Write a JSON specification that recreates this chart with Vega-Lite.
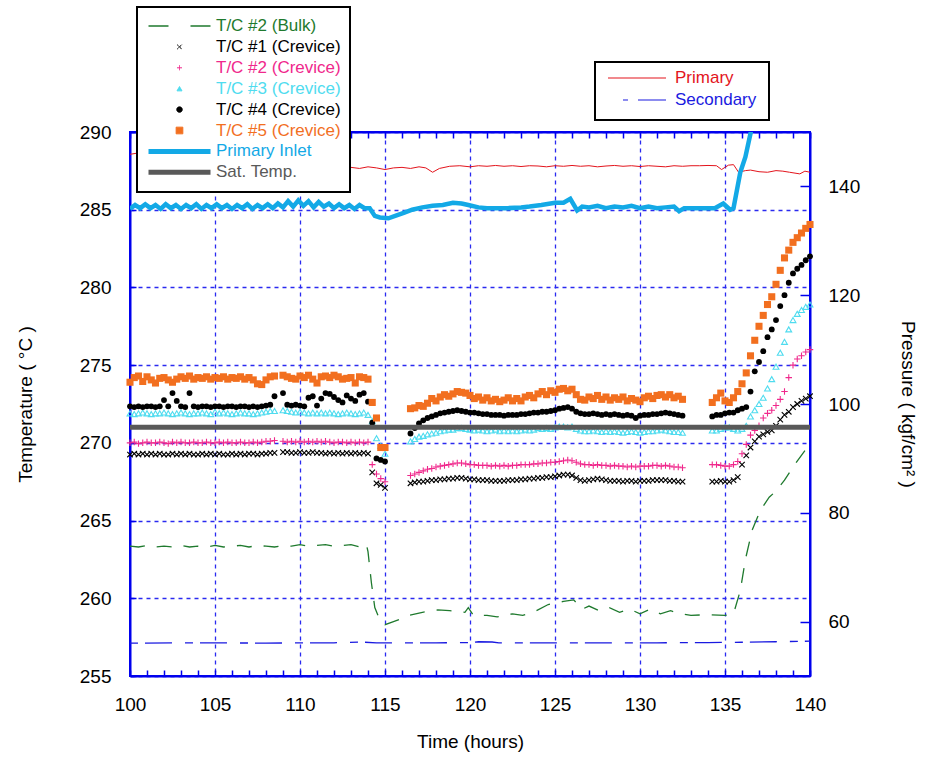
{
"$schema": "https://vega.github.io/schema/vega-lite/v6.json",
"width": 680, "height": 544,
"autosize": {"type": "none"},
"padding": {"left": 130, "top": 132, "right": 118, "bottom": 84},
"background": "white",
"config": {
 "font": "Liberation Sans",
 "view": {"stroke": "#0000ee", "strokeWidth": 2},
 "axis": {"domainColor": "#0000ee", "domainWidth": 2, "tickColor": "#0000ee", "tickWidth": 1.5, "labelColor": "black", "titleColor": "black", "labelFontSize": 19, "titleFontSize": 19, "titleFontWeight": "normal", "labelFont": "Liberation Sans", "titleFont": "Liberation Sans"},
 "legend": {"labelFont": "Liberation Sans"}
},
"datasets": {
 "cre": [
  {"t":100.00,"a":269.25,"b":270.00,"c":271.90,"d":272.35,"e":273.90},
  {"t":100.25,"a":269.30,"b":270.05,"c":271.85,"d":272.30,"e":274.20},
  {"t":100.50,"a":269.25,"b":269.95,"c":271.90,"d":272.35,"e":274.30},
  {"t":100.75,"a":269.30,"b":270.00,"c":271.95,"d":272.30,"e":273.95},
  {"t":101.00,"a":269.25,"b":270.05,"c":271.90,"d":272.35,"e":274.25},
  {"t":101.25,"a":269.30,"b":270.00,"c":271.85,"d":272.35,"e":274.05},
  {"t":101.50,"a":269.25,"b":270.00,"c":271.90,"d":272.30,"e":273.85},
  {"t":101.75,"a":269.30,"b":270.05,"c":271.90,"d":272.35,"e":274.15},
  {"t":102.00,"a":269.25,"b":270.00,"c":271.95,"d":272.75,"e":274.20},
  {"t":102.25,"a":269.25,"b":269.95,"c":271.90,"d":272.35,"e":274.05},
  {"t":102.50,"a":269.30,"b":270.05,"c":271.85,"d":273.20,"e":273.90},
  {"t":102.75,"a":269.25,"b":270.00,"c":271.90,"d":272.70,"e":274.10},
  {"t":103.00,"a":269.30,"b":270.05,"c":271.95,"d":272.35,"e":274.25},
  {"t":103.25,"a":269.25,"b":270.00,"c":271.90,"d":272.30,"e":274.15},
  {"t":103.50,"a":269.30,"b":270.00,"c":271.85,"d":273.20,"e":274.30},
  {"t":103.75,"a":269.25,"b":270.05,"c":271.90,"d":272.35,"e":274.10},
  {"t":104.00,"a":269.25,"b":270.00,"c":271.90,"d":272.30,"e":274.20},
  {"t":104.25,"a":269.30,"b":270.00,"c":271.95,"d":272.35,"e":274.15},
  {"t":104.50,"a":269.25,"b":270.05,"c":271.90,"d":272.35,"e":274.25},
  {"t":104.75,"a":269.30,"b":270.00,"c":271.85,"d":272.30,"e":274.10},
  {"t":105.00,"a":269.25,"b":270.00,"c":272.00,"d":272.35,"e":274.20},
  {"t":105.25,"a":269.30,"b":270.05,"c":271.90,"d":272.35,"e":274.15},
  {"t":105.50,"a":269.25,"b":270.00,"c":271.95,"d":272.30,"e":274.25},
  {"t":105.75,"a":269.25,"b":270.05,"c":271.90,"d":272.35,"e":274.10},
  {"t":106.00,"a":269.30,"b":270.00,"c":271.85,"d":272.35,"e":274.20},
  {"t":106.25,"a":269.25,"b":270.00,"c":271.90,"d":272.30,"e":274.15},
  {"t":106.50,"a":269.30,"b":270.05,"c":271.95,"d":272.35,"e":274.25},
  {"t":106.75,"a":269.25,"b":270.00,"c":271.90,"d":272.35,"e":274.10},
  {"t":107.00,"a":269.30,"b":270.00,"c":271.90,"d":272.30,"e":274.20},
  {"t":107.25,"a":269.30,"b":270.05,"c":271.85,"d":272.35,"e":274.05},
  {"t":107.50,"a":269.25,"b":270.00,"c":271.90,"d":272.30,"e":273.80},
  {"t":107.75,"a":269.30,"b":270.05,"c":271.95,"d":272.35,"e":273.75},
  {"t":108.00,"a":269.30,"b":270.10,"c":272.00,"d":272.40,"e":274.05},
  {"t":108.25,"a":269.35,"b":270.10,"c":272.05,"d":272.45,"e":274.25},
  {"t":108.50,"a":269.35,"b":270.15,"c":272.05,"d":273.00,"e":274.30},
  {"t":109.00,"a":269.40,"b":270.10,"c":272.10,"d":273.20,"e":274.35},
  {"t":109.25,"a":269.40,"b":270.05,"c":272.05,"d":272.45,"e":274.25},
  {"t":109.50,"a":269.35,"b":270.10,"c":272.00,"d":272.40,"e":274.15},
  {"t":109.75,"a":269.35,"b":270.05,"c":271.95,"d":272.45,"e":274.10},
  {"t":110.00,"a":269.40,"b":270.10,"c":272.00,"d":272.40,"e":274.30},
  {"t":110.25,"a":269.35,"b":270.05,"c":271.95,"d":272.35,"e":274.20},
  {"t":110.50,"a":269.35,"b":270.10,"c":271.90,"d":272.90,"e":274.35},
  {"t":110.75,"a":269.40,"b":270.05,"c":271.95,"d":273.00,"e":274.10},
  {"t":111.00,"a":269.35,"b":270.10,"c":271.90,"d":272.40,"e":273.85},
  {"t":111.25,"a":269.35,"b":270.05,"c":271.95,"d":272.85,"e":274.25},
  {"t":111.50,"a":269.30,"b":270.10,"c":271.90,"d":273.20,"e":274.30},
  {"t":111.75,"a":269.35,"b":270.05,"c":271.95,"d":273.15,"e":274.20},
  {"t":112.00,"a":269.30,"b":270.00,"c":271.90,"d":272.95,"e":274.35},
  {"t":112.25,"a":269.35,"b":270.05,"c":271.85,"d":272.75,"e":274.25},
  {"t":112.50,"a":269.30,"b":270.05,"c":271.90,"d":272.60,"e":274.10},
  {"t":112.75,"a":269.35,"b":270.00,"c":271.95,"d":273.05,"e":274.15},
  {"t":113.00,"a":269.30,"b":270.05,"c":271.90,"d":272.85,"e":274.20},
  {"t":113.25,"a":269.35,"b":270.00,"c":271.85,"d":272.70,"e":273.85},
  {"t":113.50,"a":269.30,"b":270.05,"c":271.90,"d":273.10,"e":274.25},
  {"t":113.75,"a":269.35,"b":270.00,"c":271.95,"d":273.20,"e":274.20},
  {"t":114.00,"a":269.30,"b":270.05,"c":271.80,"d":272.65,"e":274.10},
  {"t":114.25,"a":268.10,"b":268.60,"c":271.40,"d":271.30,"e":272.60},
  {"t":114.50,"a":267.40,"b":268.00,"c":270.30,"d":269.00,"e":271.60},
  {"t":114.75,"a":267.30,"b":267.70,"c":269.80,"d":268.90,"e":269.70},
  {"t":115.00,"a":267.10,"b":267.50,"c":269.30,"d":268.80,"e":269.70},
  {"t":116.50,"a":267.40,"b":267.90,"c":270.10,"d":270.60,"e":272.20},
  {"t":116.75,"a":267.45,"b":268.00,"c":270.25,"d":270.95,"e":272.25},
  {"t":117.00,"a":267.50,"b":268.10,"c":270.40,"d":271.25,"e":272.40},
  {"t":117.25,"a":267.50,"b":268.20,"c":270.45,"d":271.45,"e":272.35},
  {"t":117.50,"a":267.55,"b":268.30,"c":270.55,"d":271.60,"e":272.55},
  {"t":117.75,"a":267.60,"b":268.35,"c":270.60,"d":271.70,"e":272.85},
  {"t":118.00,"a":267.60,"b":268.45,"c":270.65,"d":271.80,"e":272.70},
  {"t":118.25,"a":267.65,"b":268.50,"c":270.75,"d":271.90,"e":272.95},
  {"t":118.50,"a":267.65,"b":268.55,"c":270.80,"d":271.95,"e":273.10},
  {"t":118.75,"a":267.70,"b":268.60,"c":270.85,"d":272.00,"e":273.00},
  {"t":119.00,"a":267.70,"b":268.65,"c":270.85,"d":272.05,"e":273.15},
  {"t":119.25,"a":267.75,"b":268.70,"c":270.95,"d":272.10,"e":273.30},
  {"t":119.50,"a":267.75,"b":268.70,"c":270.95,"d":272.05,"e":273.25},
  {"t":119.75,"a":267.70,"b":268.65,"c":270.90,"d":272.00,"e":273.20},
  {"t":120.00,"a":267.65,"b":268.60,"c":270.85,"d":271.95,"e":273.05},
  {"t":120.25,"a":267.65,"b":268.60,"c":270.80,"d":271.95,"e":272.85},
  {"t":120.50,"a":267.60,"b":268.55,"c":270.85,"d":271.90,"e":272.95},
  {"t":120.75,"a":267.60,"b":268.55,"c":270.80,"d":271.85,"e":272.75},
  {"t":121.00,"a":267.60,"b":268.55,"c":270.75,"d":271.85,"e":272.90},
  {"t":121.25,"a":267.55,"b":268.50,"c":270.80,"d":271.80,"e":272.70},
  {"t":121.50,"a":267.55,"b":268.55,"c":270.85,"d":271.80,"e":272.80},
  {"t":121.75,"a":267.55,"b":268.50,"c":270.75,"d":271.80,"e":272.65},
  {"t":122.00,"a":267.55,"b":268.55,"c":270.80,"d":271.75,"e":272.75},
  {"t":122.25,"a":267.60,"b":268.50,"c":270.75,"d":271.80,"e":272.90},
  {"t":122.50,"a":267.60,"b":268.55,"c":270.80,"d":271.80,"e":272.70},
  {"t":122.75,"a":267.60,"b":268.55,"c":270.75,"d":271.80,"e":272.85},
  {"t":123.00,"a":267.65,"b":268.60,"c":270.80,"d":271.85,"e":272.70},
  {"t":123.25,"a":267.65,"b":268.60,"c":270.85,"d":271.85,"e":272.95},
  {"t":123.50,"a":267.70,"b":268.60,"c":270.80,"d":271.90,"e":273.05},
  {"t":123.75,"a":267.70,"b":268.65,"c":270.85,"d":271.95,"e":272.90},
  {"t":124.00,"a":267.75,"b":268.65,"c":270.95,"d":271.95,"e":273.15},
  {"t":124.25,"a":267.75,"b":268.70,"c":270.90,"d":272.00,"e":273.30},
  {"t":124.50,"a":267.80,"b":268.70,"c":270.95,"d":272.00,"e":273.10},
  {"t":124.75,"a":267.80,"b":268.75,"c":270.90,"d":272.05,"e":273.35},
  {"t":125.00,"a":267.85,"b":268.75,"c":271.00,"d":272.10,"e":273.25},
  {"t":125.25,"a":267.90,"b":268.80,"c":271.05,"d":272.20,"e":273.45},
  {"t":125.50,"a":267.95,"b":268.85,"c":271.05,"d":272.25,"e":273.50},
  {"t":125.75,"a":267.95,"b":268.90,"c":271.00,"d":272.30,"e":273.35},
  {"t":126.00,"a":267.90,"b":268.85,"c":271.05,"d":272.20,"e":273.45},
  {"t":126.25,"a":267.75,"b":268.75,"c":270.90,"d":272.00,"e":273.10},
  {"t":126.50,"a":267.60,"b":268.65,"c":270.80,"d":271.90,"e":272.80},
  {"t":126.75,"a":267.55,"b":268.60,"c":270.75,"d":271.85,"e":272.75},
  {"t":127.00,"a":267.60,"b":268.60,"c":270.75,"d":271.85,"e":272.95},
  {"t":127.25,"a":267.65,"b":268.55,"c":270.80,"d":271.90,"e":272.85},
  {"t":127.50,"a":267.70,"b":268.60,"c":270.75,"d":271.85,"e":273.05},
  {"t":127.75,"a":267.65,"b":268.55,"c":270.70,"d":271.80,"e":272.80},
  {"t":128.00,"a":267.60,"b":268.55,"c":270.75,"d":271.85,"e":272.95},
  {"t":128.25,"a":267.55,"b":268.50,"c":270.70,"d":271.80,"e":272.75},
  {"t":128.50,"a":267.55,"b":268.55,"c":270.75,"d":271.85,"e":272.90},
  {"t":128.75,"a":267.55,"b":268.50,"c":270.70,"d":271.80,"e":272.80},
  {"t":129.00,"a":267.50,"b":268.50,"c":270.65,"d":271.75,"e":272.95},
  {"t":129.25,"a":267.55,"b":268.45,"c":270.70,"d":271.80,"e":272.70},
  {"t":129.50,"a":267.55,"b":268.50,"c":270.75,"d":271.75,"e":272.85},
  {"t":129.75,"a":267.50,"b":268.45,"c":270.70,"d":271.60,"e":272.75},
  {"t":130.00,"a":267.55,"b":268.50,"c":270.65,"d":271.75,"e":272.65},
  {"t":130.25,"a":267.55,"b":268.50,"c":270.70,"d":271.80,"e":272.90},
  {"t":130.50,"a":267.55,"b":268.50,"c":270.75,"d":271.80,"e":273.00},
  {"t":130.75,"a":267.60,"b":268.55,"c":270.75,"d":271.85,"e":272.85},
  {"t":131.00,"a":267.60,"b":268.55,"c":270.80,"d":271.85,"e":273.05},
  {"t":131.25,"a":267.60,"b":268.50,"c":270.85,"d":271.90,"e":273.10},
  {"t":131.50,"a":267.60,"b":268.55,"c":270.80,"d":271.95,"e":272.95},
  {"t":131.75,"a":267.55,"b":268.50,"c":270.75,"d":271.90,"e":273.10},
  {"t":132.00,"a":267.55,"b":268.45,"c":270.70,"d":271.85,"e":272.90},
  {"t":132.25,"a":267.50,"b":268.45,"c":270.70,"d":271.80,"e":273.00},
  {"t":132.50,"a":267.50,"b":268.40,"c":270.65,"d":271.75,"e":272.80},
  {"t":134.25,"a":267.50,"b":268.60,"c":270.80,"d":271.70,"e":272.60},
  {"t":134.50,"a":267.50,"b":268.60,"c":270.80,"d":271.80,"e":272.90},
  {"t":134.75,"a":267.55,"b":268.55,"c":270.90,"d":271.80,"e":273.20},
  {"t":135.00,"a":267.50,"b":268.50,"c":271.00,"d":271.90,"e":272.70},
  {"t":135.25,"a":267.50,"b":268.50,"c":271.00,"d":271.95,"e":272.60},
  {"t":135.50,"a":267.60,"b":268.60,"c":270.90,"d":271.95,"e":272.90},
  {"t":135.75,"a":267.80,"b":268.80,"c":270.80,"d":272.10,"e":273.30},
  {"t":136.00,"a":268.60,"b":269.30,"c":270.90,"d":272.20,"e":273.80},
  {"t":136.25,"a":269.20,"b":269.90,"c":271.10,"d":272.30,"e":274.50},
  {"t":136.50,"a":269.70,"b":270.50,"c":271.70,"d":273.30,"e":275.60},
  {"t":136.75,"a":270.10,"b":270.80,"c":272.10,"d":274.60,"e":276.60},
  {"t":137.00,"a":270.40,"b":271.10,"c":272.50,"d":275.20,"e":277.50},
  {"t":137.25,"a":270.55,"b":271.60,"c":272.90,"d":275.90,"e":278.20},
  {"t":137.50,"a":270.70,"b":271.90,"c":273.50,"d":276.80,"e":278.90},
  {"t":137.75,"a":270.80,"b":272.10,"c":274.10,"d":277.30,"e":279.40},
  {"t":138.00,"a":271.10,"b":272.40,"c":274.90,"d":277.90,"e":280.20},
  {"t":138.25,"a":271.50,"b":272.80,"c":275.80,"d":278.80,"e":281.10},
  {"t":138.50,"a":271.80,"b":273.30,"c":276.50,"d":279.50,"e":281.90},
  {"t":138.75,"a":272.00,"b":274.20,"c":277.30,"d":280.30,"e":282.40},
  {"t":139.00,"a":272.30,"b":275.00,"c":277.90,"d":280.90,"e":282.90},
  {"t":139.25,"a":272.50,"b":275.40,"c":278.30,"d":281.20,"e":283.20},
  {"t":139.50,"a":272.70,"b":275.60,"c":278.55,"d":281.45,"e":283.50},
  {"t":139.75,"a":272.85,"b":275.85,"c":278.75,"d":281.75,"e":283.80},
  {"t":140.00,"a":273.00,"b":276.00,"c":278.90,"d":282.00,"e":284.05}
 ],
 "bulk": [
  {"t":100.0,"v":263.35},{"t":100.5,"v":263.3},{"t":101.0,"v":263.4},{"t":101.5,"v":263.3},{"t":102.0,"v":263.35},{"t":102.5,"v":263.3},{"t":103.0,"v":263.4},{"t":103.5,"v":263.3},{"t":104.0,"v":263.35},{"t":104.5,"v":263.3},{"t":105.0,"v":263.4},{"t":105.5,"v":263.3},{"t":106.0,"v":263.35},{"t":106.5,"v":263.4},{"t":107.0,"v":263.3},{"t":107.5,"v":263.4},{"t":108.0,"v":263.35},{"t":108.5,"v":263.3},{"t":109.0,"v":263.4},{"t":109.5,"v":263.35},{"t":110.0,"v":263.45},{"t":110.5,"v":263.35},{"t":111.0,"v":263.4},{"t":111.5,"v":263.45},{"t":112.0,"v":263.35},{"t":112.5,"v":263.4},{"t":113.0,"v":263.45},{"t":113.5,"v":263.3},{"t":113.9,"v":263.5},{"t":114.0,"v":263.0},{"t":114.2,"v":261.0},{"t":114.4,"v":259.4},{"t":114.7,"v":258.6},{"t":115.0,"v":258.3},{"t":115.5,"v":258.5},{"t":116.0,"v":258.7},{"t":116.4,"v":258.9},{"t":117.2,"v":259.1},{"t":118.1,"v":259.25},{"t":118.8,"v":259.2},{"t":119.7,"v":259.1},{"t":119.9,"v":259.4},{"t":120.2,"v":258.9},{"t":121.0,"v":258.9},{"t":121.6,"v":258.8},{"t":122.5,"v":259.0},{"t":123.1,"v":258.9},{"t":123.9,"v":259.2},{"t":124.6,"v":259.6},{"t":125.5,"v":259.8},{"t":126.1,"v":259.9},{"t":126.6,"v":259.3},{"t":127.0,"v":259.5},{"t":127.6,"v":259.2},{"t":128.2,"v":259.4},{"t":128.8,"v":259.1},{"t":129.4,"v":259.3},{"t":130.0,"v":259.0},{"t":130.6,"v":259.3},{"t":131.2,"v":259.0},{"t":131.8,"v":259.2},{"t":132.4,"v":259.0},{"t":133.0,"v":258.9},{"t":134.0,"v":258.95},{"t":135.0,"v":258.9},{"t":135.5,"v":259.0},{"t":135.9,"v":260.5},{"t":136.2,"v":262.5},{"t":136.6,"v":264.4},{"t":137.1,"v":265.7},{"t":137.6,"v":266.5},{"t":138.0,"v":266.9},{"t":138.5,"v":267.6},{"t":139.1,"v":268.6},{"t":139.7,"v":269.5},{"t":140.0,"v":269.9}
 ],
 "inlet": [
  {"t":100.0,"v":285.05},{"t":100.3,"v":285.3},{"t":100.6,"v":285.1},{"t":100.9,"v":285.35},{"t":101.2,"v":285.1},{"t":101.5,"v":285.3},{"t":101.8,"v":285.05},{"t":102.1,"v":285.35},{"t":102.4,"v":285.1},{"t":102.7,"v":285.3},{"t":103.0,"v":285.05},{"t":103.3,"v":285.3},{"t":103.6,"v":285.1},{"t":103.9,"v":285.35},{"t":104.2,"v":285.05},{"t":104.5,"v":285.3},{"t":104.8,"v":285.1},{"t":105.1,"v":285.35},{"t":105.4,"v":285.1},{"t":105.7,"v":285.3},{"t":106.0,"v":285.05},{"t":106.3,"v":285.3},{"t":106.6,"v":285.1},{"t":106.9,"v":285.35},{"t":107.2,"v":285.05},{"t":107.5,"v":285.3},{"t":107.8,"v":285.1},{"t":108.1,"v":285.35},{"t":108.4,"v":285.1},{"t":108.7,"v":285.4},{"t":109.0,"v":285.15},{"t":109.3,"v":285.55},{"t":109.6,"v":285.2},{"t":109.9,"v":285.6},{"t":110.2,"v":285.25},{"t":110.5,"v":285.55},{"t":110.8,"v":285.15},{"t":111.1,"v":285.5},{"t":111.4,"v":285.2},{"t":111.7,"v":285.4},{"t":112.0,"v":285.1},{"t":112.3,"v":285.35},{"t":112.6,"v":285.1},{"t":112.9,"v":285.3},{"t":113.2,"v":285.05},{"t":113.5,"v":285.3},{"t":113.8,"v":285.1},{"t":114.1,"v":285.1},{"t":114.4,"v":284.6},{"t":114.7,"v":284.5},{"t":115.2,"v":284.45},{"t":115.6,"v":284.6},{"t":116.1,"v":284.8},{"t":116.6,"v":285.0},{"t":117.2,"v":285.15},{"t":117.8,"v":285.25},{"t":118.4,"v":285.3},{"t":119.0,"v":285.45},{"t":119.5,"v":285.4},{"t":119.9,"v":285.3},{"t":120.5,"v":285.15},{"t":121.0,"v":285.1},{"t":122.2,"v":285.1},{"t":123.0,"v":285.15},{"t":123.5,"v":285.2},{"t":124.2,"v":285.3},{"t":125.0,"v":285.45},{"t":125.5,"v":285.45},{"t":125.9,"v":285.7},{"t":126.3,"v":284.95},{"t":126.6,"v":285.2},{"t":127.0,"v":285.15},{"t":127.5,"v":285.25},{"t":128.0,"v":285.1},{"t":128.5,"v":285.2},{"t":129.0,"v":285.15},{"t":129.5,"v":285.25},{"t":130.0,"v":285.1},{"t":130.5,"v":285.2},{"t":131.0,"v":285.1},{"t":131.5,"v":285.15},{"t":132.0,"v":285.2},{"t":132.3,"v":284.9},{"t":132.6,"v":285.1},{"t":133.0,"v":285.1},{"t":133.5,"v":285.1},{"t":134.4,"v":285.1},{"t":134.9,"v":285.4},{"t":135.3,"v":285.0},{"t":135.5,"v":285.1},{"t":135.9,"v":287.4},{"t":136.2,"v":288.4},{"t":136.5,"v":289.9},{"t":136.8,"v":291.5}
 ],
 "sat": [{"t":100,"v":271.0},{"t":140,"v":271.0}],
 "pp": [
  {"t":100.0,"p":145.9},{"t":100.4,"p":146.1},{"t":101.0,"p":145.7},{"t":102.0,"p":145.5},{"t":104.0,"p":145.2},{"t":106.0,"p":144.8},{"t":108.0,"p":144.3},{"t":110.0,"p":143.9},{"t":112.0,"p":143.7},{"t":113.0,"p":143.5},{"t":113.5,"p":143.3},{"t":114.0,"p":143.6},{"t":114.5,"p":143.4},{"t":115.0,"p":143.1},{"t":115.5,"p":143.4},{"t":116.0,"p":143.5},{"t":116.5,"p":143.3},{"t":117.0,"p":143.6},{"t":117.4,"p":143.4},{"t":117.8,"p":142.6},{"t":118.2,"p":143.3},{"t":118.8,"p":143.7},{"t":119.4,"p":143.8},{"t":120.0,"p":143.6},{"t":120.5,"p":143.8},{"t":121.0,"p":143.7},{"t":121.5,"p":143.85},{"t":122.0,"p":143.7},{"t":122.5,"p":143.8},{"t":123.0,"p":143.65},{"t":123.5,"p":143.8},{"t":124.0,"p":143.75},{"t":124.5,"p":143.6},{"t":125.0,"p":143.8},{"t":125.5,"p":143.7},{"t":126.0,"p":143.85},{"t":126.5,"p":143.7},{"t":127.0,"p":143.8},{"t":127.5,"p":143.6},{"t":128.0,"p":143.75},{"t":128.5,"p":143.85},{"t":129.0,"p":143.7},{"t":129.5,"p":143.8},{"t":130.0,"p":143.65},{"t":130.5,"p":143.8},{"t":131.0,"p":143.7},{"t":131.5,"p":143.6},{"t":132.0,"p":143.8},{"t":132.5,"p":143.7},{"t":133.0,"p":143.8},{"t":133.5,"p":143.8},{"t":134.0,"p":143.85},{"t":134.5,"p":143.8},{"t":134.8,"p":143.1},{"t":135.2,"p":143.9},{"t":135.5,"p":144.0},{"t":135.8,"p":142.6},{"t":136.2,"p":142.9},{"t":136.5,"p":143.0},{"t":137.0,"p":142.7},{"t":137.5,"p":142.6},{"t":138.0,"p":142.9},{"t":138.4,"p":142.8},{"t":138.8,"p":142.6},{"t":139.0,"p":142.5},{"t":139.4,"p":142.3},{"t":139.7,"p":142.8},{"t":140.0,"p":142.6}
 ],
 "sp": [
  {"t":100.0,"p":56.05},{"t":104.0,"p":56.1},{"t":108.0,"p":56.05},{"t":112.0,"p":56.1},{"t":113.5,"p":56.25},{"t":114.5,"p":56.1},{"t":118.0,"p":56.1},{"t":120.0,"p":56.15},{"t":120.5,"p":56.3},{"t":121.3,"p":56.25},{"t":121.7,"p":56.1},{"t":125.0,"p":56.1},{"t":128.0,"p":56.1},{"t":131.0,"p":56.1},{"t":134.0,"p":56.15},{"t":136.0,"p":56.2},{"t":138.0,"p":56.3},{"t":140.0,"p":56.4}
 ]
},
"layer": [
 {
  "encoding": {"x": {"field": "t", "type": "quantitative", "scale": {"domain": [100, 140], "nice": false, "zero": false},
    "axis": {"orient": "top", "values": [100,101,102,103,104,105,106,107,108,109,110,111,112,113,114,115,116,117,118,119,120,121,122,123,124,125,126,127,128,129,130,131,132,133,134,135,136,137,138,139,140], "labels": false, "grid": false, "tickSize": -6, "title": null}}},
  "layer": [
   {"data": {"name": "pp"}, "mark": {"type": "line", "strokeWidth": 1, "clip": true},
    "encoding": {
     "y": {"field": "p", "type": "quantitative", "scale": {"domain": [50, 150], "nice": false, "zero": false},
       "axis": {"orient": "right", "values": [60, 80, 100, 120, 140], "grid": false, "tickSize": -10, "labelPadding": 28, "title": "Pressure ( kgf/cm² )", "titlePadding": 38}},
     "stroke": {"datum": "Primary", "scale": {"domain": ["Primary", "Secondary"], "range": ["#e3141c", "#1a1ae0"]},
       "legend": {"orient": "none", "legendX": 465, "legendY": -70, "title": null, "fillColor": "white", "strokeColor": "black", "padding": 12, "symbolSize": 3364, "symbolStrokeWidth": 1, "clipHeight": 8, "rowPadding": 5, "labelOffset": 8, "symbolOffset": 0, "labelFontSize": 17, "labelLimit": 400,
        "encode": {
         "legend": {"update": {"strokeWidth": {"value": 2}}},
         "labels": {"update": {"fill": {"signal": "scale('stroke', datum.value)"}}},
         "symbols": {"update": {
           "shape": {"value": "stroke"}, "size": {"value": 3364},
           "stroke": {"signal": "scale('stroke', datum.value)"},
           "strokeWidth": {"value": 1.2},
           "strokeDash": {"signal": "datum.value === 'Secondary' ? [5, 10, 28, 15] : [1, 0]"},
           "strokeDashOffset": {"signal": "datum.value === 'Secondary' ? 43 : 0"},
           "opacity": {"value": 1}, "strokeOpacity": {"value": 1}}}
        }}}
    }},
   {"data": {"name": "sp"}, "mark": {"type": "line", "strokeWidth": 1.3, "strokeDash": [8, 7, 27, 13], "clip": true},
    "encoding": {"y": {"field": "p", "type": "quantitative"}, "stroke": {"datum": "Secondary"}}}
  ]
 },
 {
  "encoding": {"x": {"field": "t", "type": "quantitative", "scale": {"domain": [100, 140], "nice": false, "zero": false},
    "axis": {"orient": "bottom", "values": [100,101,102,103,104,105,106,107,108,109,110,111,112,113,114,115,116,117,118,119,120,121,122,123,124,125,126,127,128,129,130,131,132,133,134,135,136,137,138,139,140],
      "labelExpr": "datum.value % 5 === 0 ? datum.label : ''", "labelOverlap": false, "labelBound": false, "labelFlush": false,
      "grid": true, "gridColor": "#2a2af0", "gridDash": [4, 4], "gridWidth": 1.3,
      "gridOpacity": {"condition": {"test": "datum.value % 5 !== 0 || datum.value === 100 || datum.value === 140", "value": 0}, "value": 1},
      "tickSize": -6, "labelPadding": 25,
      "title": "Time (hours)", "titlePadding": 18}}},
  "layer": [
   {"data": {"name": "bulk"}, "mark": {"type": "line", "strokeWidth": 1.3, "strokeDash": [15, 12], "clip": true},
    "encoding": {
     "y": {"field": "v", "type": "quantitative", "title": "Temperature ( °C )", "scale": {"domain": [255, 290], "nice": false, "zero": false},
       "axis": {"orient": "left", "values": [255, 260, 265, 270, 275, 280, 285, 290], "grid": true, "gridColor": "#2a2af0", "gridDash": [4, 4], "gridWidth": 1.3, "tickSize": -6, "labelPadding": 25, "titlePadding": 44}},
     "color": {"datum": "T/C #2 (Bulk)",
       "scale": {"domain": ["T/C #2 (Bulk)", "T/C #1 (Crevice)", "T/C #2 (Crevice)", "T/C #3 (Crevice)", "T/C #4 (Crevice)", "T/C #5 (Crevice)", "Primary Inlet", "Sat. Temp."],
                 "range": ["#1f7a2e", "#000000", "#f0288c", "#4fdcef", "#000000", "#f26f1f", "#13a9e6", "#595959"]},
       "legend": {"orient": "none", "legendX": 7, "legendY": -125, "title": null, "fillColor": "white", "strokeColor": "black", "padding": 9, "symbolSize": 3844, "symbolStrokeWidth": 1, "clipHeight": 20, "rowPadding": 0.9, "labelOffset": 28, "symbolOffset": 25, "labelFontSize": 17, "labelLimit": 400,
        "encode": {
         "legend": {"update": {"strokeWidth": {"value": 2}}},
         "labels": {"update": {"fill": {"signal": "scale('color', datum.value)"}}},
         "symbols": {"update": {
           "shape": {"signal": "datum.value === 'T/C #1 (Crevice)' ? 'M-1,-1L1,1M-1,1L1,-1' : datum.value === 'T/C #2 (Crevice)' ? 'M-1,0L1,0M0,-1L0,1' : datum.value === 'T/C #3 (Crevice)' ? 'triangle-up' : datum.value === 'T/C #4 (Crevice)' ? 'circle' : datum.value === 'T/C #5 (Crevice)' ? 'square' : 'stroke'"},
           "size": {"signal": "datum.value === 'T/C #1 (Crevice)' ? 20 : datum.value === 'T/C #2 (Crevice)' ? 25 : datum.value === 'T/C #3 (Crevice)' ? 25 : datum.value === 'T/C #4 (Crevice)' ? 30 : datum.value === 'T/C #5 (Crevice)' ? 45 : 3844"},
           "fill": {"signal": "datum.value === 'T/C #4 (Crevice)' || datum.value === 'T/C #5 (Crevice)' ? scale('color', datum.value) : 'transparent'"},
           "stroke": {"signal": "datum.value === 'T/C #4 (Crevice)' || datum.value === 'T/C #5 (Crevice)' ? 'transparent' : scale('color', datum.value)"},
           "strokeWidth": {"signal": "datum.value === 'Primary Inlet' || datum.value === 'Sat. Temp.' ? 5 : datum.value === 'T/C #2 (Bulk)' ? 1.3 : 1"},
           "strokeDash": {"signal": "datum.value === 'T/C #2 (Bulk)' ? [20, 22] : [1, 0]"},
           "opacity": {"value": 1}, "fillOpacity": {"value": 1}, "strokeOpacity": {"value": 1}}}
        }}}
    }},
   {"data": {"name": "cre"}, "mark": {"type": "point", "shape": "M-1,-1L1,1M-1,1L1,-1", "filled": false, "size": 30, "strokeWidth": 1.1, "opacity": 1},
    "encoding": {"y": {"field": "a", "type": "quantitative", "title": "Temperature ( °C )"}, "color": {"datum": "T/C #1 (Crevice)"}}},
   {"data": {"name": "cre"}, "mark": {"type": "point", "shape": "M-1,0L1,0M0,-1L0,1", "filled": false, "size": 42, "strokeWidth": 1.1, "opacity": 1},
    "encoding": {"y": {"field": "b", "type": "quantitative", "title": "Temperature ( °C )"}, "color": {"datum": "T/C #2 (Crevice)"}}},
   {"data": {"name": "cre"}, "mark": {"type": "point", "shape": "triangle-up", "filled": false, "size": 34, "strokeWidth": 1.1, "opacity": 1},
    "encoding": {"y": {"field": "c", "type": "quantitative", "title": "Temperature ( °C )"}, "color": {"datum": "T/C #3 (Crevice)"}}},
   {"data": {"name": "cre"}, "mark": {"type": "point", "shape": "circle", "filled": true, "size": 34, "opacity": 1},
    "encoding": {"y": {"field": "d", "type": "quantitative", "title": "Temperature ( °C )"}, "color": {"datum": "T/C #4 (Crevice)"}}},
   {"data": {"name": "cre"}, "mark": {"type": "point", "shape": "square", "filled": true, "size": 50, "opacity": 1},
    "encoding": {"y": {"field": "e", "type": "quantitative", "title": "Temperature ( °C )"}, "color": {"datum": "T/C #5 (Crevice)"}}},
   {"data": {"name": "inlet"}, "mark": {"type": "line", "strokeWidth": 4.5, "clip": true},
    "encoding": {"y": {"field": "v", "type": "quantitative", "title": "Temperature ( °C )"}, "color": {"datum": "Primary Inlet"}}},
   {"data": {"name": "sat"}, "mark": {"type": "line", "strokeWidth": 5},
    "encoding": {"y": {"field": "v", "type": "quantitative", "title": "Temperature ( °C )"}, "color": {"datum": "Sat. Temp."}}}
  ]
 }
],
"resolve": {"scale": {"y": "independent"}, "axis": {"x": "independent"}}
}
